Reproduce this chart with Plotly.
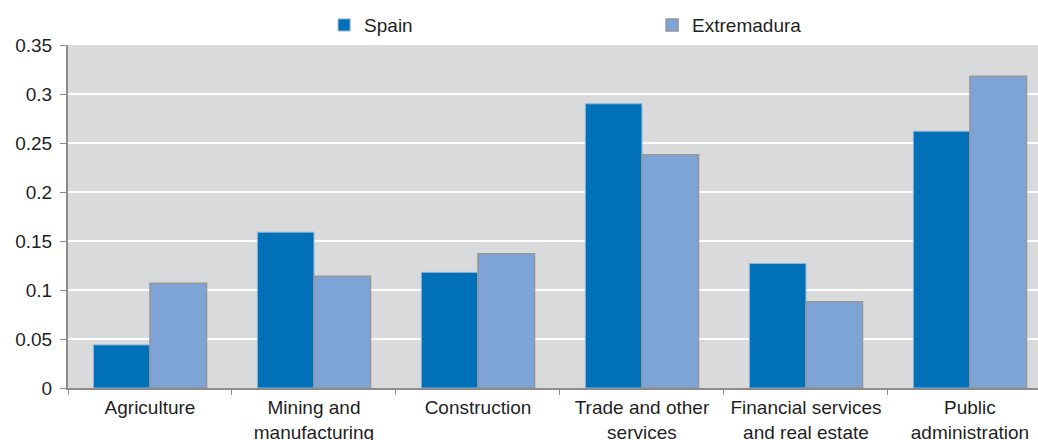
import plotly.graph_objects as go

# Sector shares of employment
sectors = [
    "Agriculture",
    "Mining and<br>manufacturing",
    "Construction",
    "Trade and other<br>services",
    "Financial services<br>and real estate",
    "Public<br>administration",
]
spain = [0.044, 0.159, 0.118, 0.290, 0.127, 0.262]
extremadura = [0.107, 0.114, 0.137, 0.238, 0.088, 0.318]

y_ticks = [0, 0.05, 0.1, 0.15, 0.2, 0.25, 0.3, 0.35]
y_labels = ["0", "0.05", "0.1", "0.15", "0.2", "0.25", "0.3", "0.35"]

FONT = "Liberation Sans, Arial, sans-serif"
TEXT = "#1F1F1F"

fig = go.Figure()
fig.add_trace(go.Bar(
    name="Spain", x=sectors, y=spain,
    marker=dict(color="#0070B8", line=dict(color="#8FB4DA", width=1)),
))
fig.add_trace(go.Bar(
    name="Extremadura", x=sectors, y=extremadura,
    marker=dict(color="#7EA3D6", line=dict(color="#979797", width=1.5)),
))

fig.update_layout(
    width=1038, height=440,
    margin=dict(l=68, r=0, t=45, b=52),
    paper_bgcolor="white",
    plot_bgcolor="#D9DADB",
    barmode="group",
    bargap=0.31,
    bargroupgap=0,
    font=dict(family=FONT, size=19, color=TEXT),
    legend=dict(
        orientation="h",
        x=0.264, xanchor="left",
        y=1.058, yanchor="middle",
        entrywidth=283, entrywidthmode="pixels",
        itemwidth=30,
        font=dict(size=19, color=TEXT),
        bgcolor="rgba(0,0,0,0)",
    ),
    xaxis=dict(
        range=[-0.5, 5.415],
        automargin=False,
        showgrid=False,
        showline=True, linecolor="#8C8C8C", linewidth=2,
        ticks="outside", ticklen=5, tickcolor="#8C8C8C", tickwidth=1,
        tickson="boundaries",
        tickfont=dict(size=19, color=TEXT),
        ticklabelstandoff=1,
    ),
    yaxis=dict(
        range=[0, 0.35],
        automargin=False,
        tickvals=y_ticks, ticktext=y_labels,
        showgrid=True, gridcolor="white", gridwidth=2,
        zeroline=False,
        showline=True, linecolor="#8C8C8C", linewidth=2,
        ticks="outside", ticklen=6, tickcolor="#8C8C8C", tickwidth=1,
        tickfont=dict(size=19, color=TEXT),
        ticklabelstandoff=4,
    ),
)

fig.write_html("out.html")
